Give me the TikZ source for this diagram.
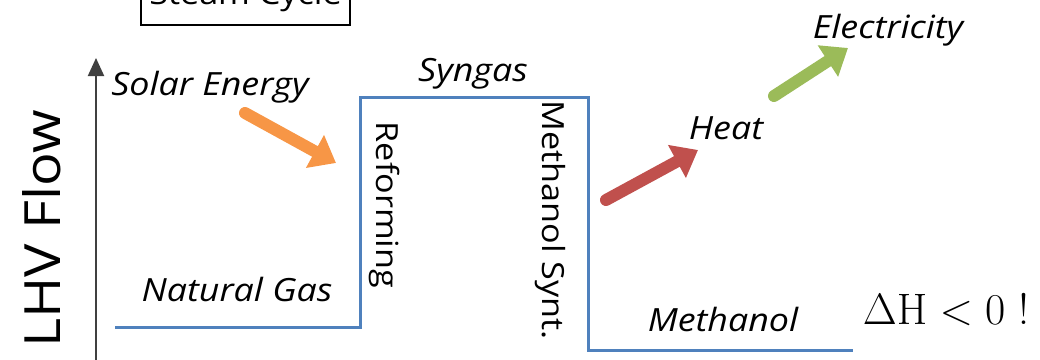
\RequirePackage{fix-cm}
\documentclass[tikz,border=0pt]{standalone}
\usepackage[no-math]{fontspec}
\setmainfont[FakeStretch=1.12]{Open Sans}
\usetikzlibrary{arrows.meta}
\definecolor{flowblue}{HTML}{4F81BD}
\definecolor{solarorange}{HTML}{F79646}
\definecolor{heatred}{HTML}{C0504D}
\definecolor{elecgreen}{HTML}{9BBB59}
\definecolor{axisgray}{HTML}{404040}
\tikzset{
  label/.style={inner sep=0pt, font=\fontsize{32}{36}\selectfont\itshape},
  steplabel/.style={inner sep=0pt, font=\fontsize{30.5}{34}\selectfont, rotate=-90},
  fat/.style={line width=12pt, line cap=round,
    -{Triangle[length=24pt,width=36pt]}},
}
\begin{document}
\begin{tikzpicture}[x=1pt,y=-1pt]
\useasboundingbox (0,0) rectangle (1040,359);
\clip (0,0) rectangle (1040,359);

% boxed caption at the top edge
\node[draw, line width=1.2pt, anchor=base, inner sep=0pt, minimum width=209pt,
      text height=40pt, text depth=21pt,
      font=\fontsize{30.5}{34}\selectfont] (steam) at (245.5,4) {Steam Cycle};

% vertical axis
\coordinate (axbot) at (96,362);
\coordinate (axtop) at (96,58);
\draw[axisgray, line width=2pt, -{Triangle[length=18pt,width=16pt]}] (axbot) -- (axtop);
\node[rotate=90, inner sep=0pt, font=\fontsize{50}{58}\selectfont] (lhv) at (42,229) {LHV Flow};

% energy level profile
\coordinate (p0) at (115,327);
\coordinate (p1) at (360,327);
\coordinate (p2) at (360,97);
\coordinate (p3) at (588,97);
\coordinate (p4) at (588,350);
\coordinate (p5) at (853,350);
\draw[flowblue, line width=3pt] (p0) -- (p1) -- (p2) -- (p3) -- (p4) -- (p5);

% level labels
\node[label, anchor=base] (ng) at (237,301) {Natural Gas};
\node[label, anchor=base] (sol) at (210,95) {Solar Energy};
\node[label, anchor=base] (syn) at (473,81) {Syngas};
\node[label, anchor=base] (meoh) at (723,331) {Methanol};
\node[label, anchor=base] (heat) at (726,139) {Heat};
\node[label, anchor=base] (elec) at (888,38) {Electricity};

% step labels
\node[steplabel] (ref) at (384,205) {Reforming};
\node[steplabel] (syn2) at (550,220) {Methanol Synt.};

% enthalpy remark
\node[inner sep=0pt, font=\fontsize{44}{50}\selectfont] (dh) at (946,310)
  {$\Delta\mathrm{H} < 0\ \mathrm{!}$};

% energy transfer arrows
\coordinate (sa) at (245,113);
\coordinate (sb) at (336,163);
\coordinate (ha) at (606,200);
\coordinate (hb) at (698,150);
\coordinate (ea) at (774,96);
\coordinate (eb) at (848,48);
\draw[fat, solarorange] (sa) -- (sb);
\draw[fat, heatred] (ha) -- (hb);
\draw[fat, elecgreen] (ea) -- (eb);
\end{tikzpicture}
\end{document}
